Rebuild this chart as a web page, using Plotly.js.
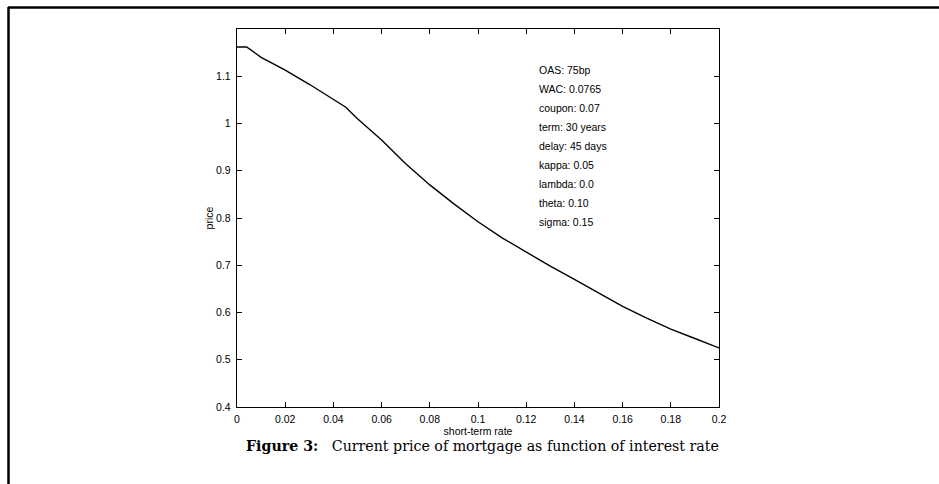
<!DOCTYPE html>
<html>
<head>
<meta charset="utf-8">
<script src="https://cdn.plot.ly/plotly-3.0.1.min.js"></script>
<style>
html,body{margin:0;padding:0;background:#fff;}
#chart{width:939px;height:484px;}
</style>
</head>
<body>
<div id="chart"></div>
<script>
// short-term rate (x) and mortgage price (y)
var rate  = [0, 0.004, 0.01, 0.02, 0.03, 0.04, 0.045, 0.05, 0.06, 0.07, 0.08, 0.09, 0.10, 0.11, 0.12, 0.13, 0.14, 0.15, 0.16, 0.17, 0.18, 0.19, 0.20];
var price = [1.162, 1.162, 1.14, 1.113, 1.083, 1.052, 1.035, 1.01, 0.965, 0.915, 0.870, 0.830, 0.792, 0.758, 0.728, 0.698, 0.670, 0.641, 0.613, 0.588, 0.565, 0.545, 0.525];

var xTickVals = [0, 0.02, 0.04, 0.06, 0.08, 0.1, 0.12, 0.14, 0.16, 0.18, 0.2];
var xTickText = ["0", "0.02", "0.04", "0.06", "0.08", "0.1", "0.12", "0.14", "0.16", "0.18", "0.2"];
var yTickVals = [0.4, 0.5, 0.6, 0.7, 0.8, 0.9, 1.0, 1.1];
var yTickText = ["0.4", "0.5", "0.6", "0.7", "0.8", "0.9", "1", "1.1"];

var params = ["OAS: 75bp", "WAC: 0.0765", "coupon: 0.07", "term: 30 years", "delay: 45 days",
              "kappa: 0.05", "lambda: 0.0", "theta: 0.10", "sigma: 0.15"];

var L = 237, R = 719, T = 29, B = 407, W = 939, H = 484;
function px(x){ return (x - L) / (R - L); }
function py(y){ return (B - y) / (B - T); }

var annotations = params.map(function(t, i){
  return {xref:'paper', yref:'paper', x: px(537), y: py(70 + i*19), text: t, showarrow:false,
          xanchor:'left', yanchor:'middle', font:{family:'Liberation Sans, Arial, sans-serif', size:10.5, color:'#000'}};
});
annotations.push({xref:'paper', yref:'paper', x: px(244), y: py(446),
  text: '<b>Figure 3:</b>   Current price of mortgage as function of interest rate',
  showarrow:false, xanchor:'left', yanchor:'middle',
  font:{family:'DejaVu Serif, serif', size:14.2, color:'#000'}});

var axFont = {family:'Liberation Sans, Arial, sans-serif', size:10.5, color:'#000'};

var layout = {
  width: W, height: H,
  margin: {l: L, r: W - R, t: T, b: H - B, pad: 0},
  paper_bgcolor: '#fff', plot_bgcolor: '#fff',
  showlegend: false,
  xaxis: {range:[0, 0.2], tickvals:xTickVals, ticktext:xTickText, ticks:'inside', ticklen:5,
          tickcolor:'#000', showline:true, linecolor:'#000', linewidth:1.2, mirror:'ticks',
          showgrid:false, zeroline:false, tickfont:axFont, ticklabelstandoff:2,
          title:{text:'short-term rate', font:axFont, standoff:2}},
  yaxis: {range:[0.4, 1.2], tickvals:yTickVals, ticktext:yTickText, ticks:'inside', ticklen:5,
          tickcolor:'#000', showline:true, linecolor:'#000', linewidth:1.2, mirror:'ticks',
          showgrid:false, zeroline:false, tickfont:axFont, ticklabelstandoff:3,
          title:{text:'price', font:axFont, standoff:0}},
  annotations: annotations,
  shapes: [
    {type:'line', xref:'paper', yref:'paper', x0:px(8), x1:px(939), y0:py(7.5), y1:py(7.5), line:{color:'#000', width:2.5}},
    {type:'line', xref:'paper', yref:'paper', x0:px(8.5), x1:px(8.5), y0:py(7), y1:py(484), line:{color:'#000', width:2.5}}
  ]
};

Plotly.newPlot('chart', [{x: rate, y: price, type:'scatter', mode:'lines', line:{color:'#000', width:1.4}}],
  layout, {displayModeBar:false, staticPlot:true});
</script>
</body>
</html>
